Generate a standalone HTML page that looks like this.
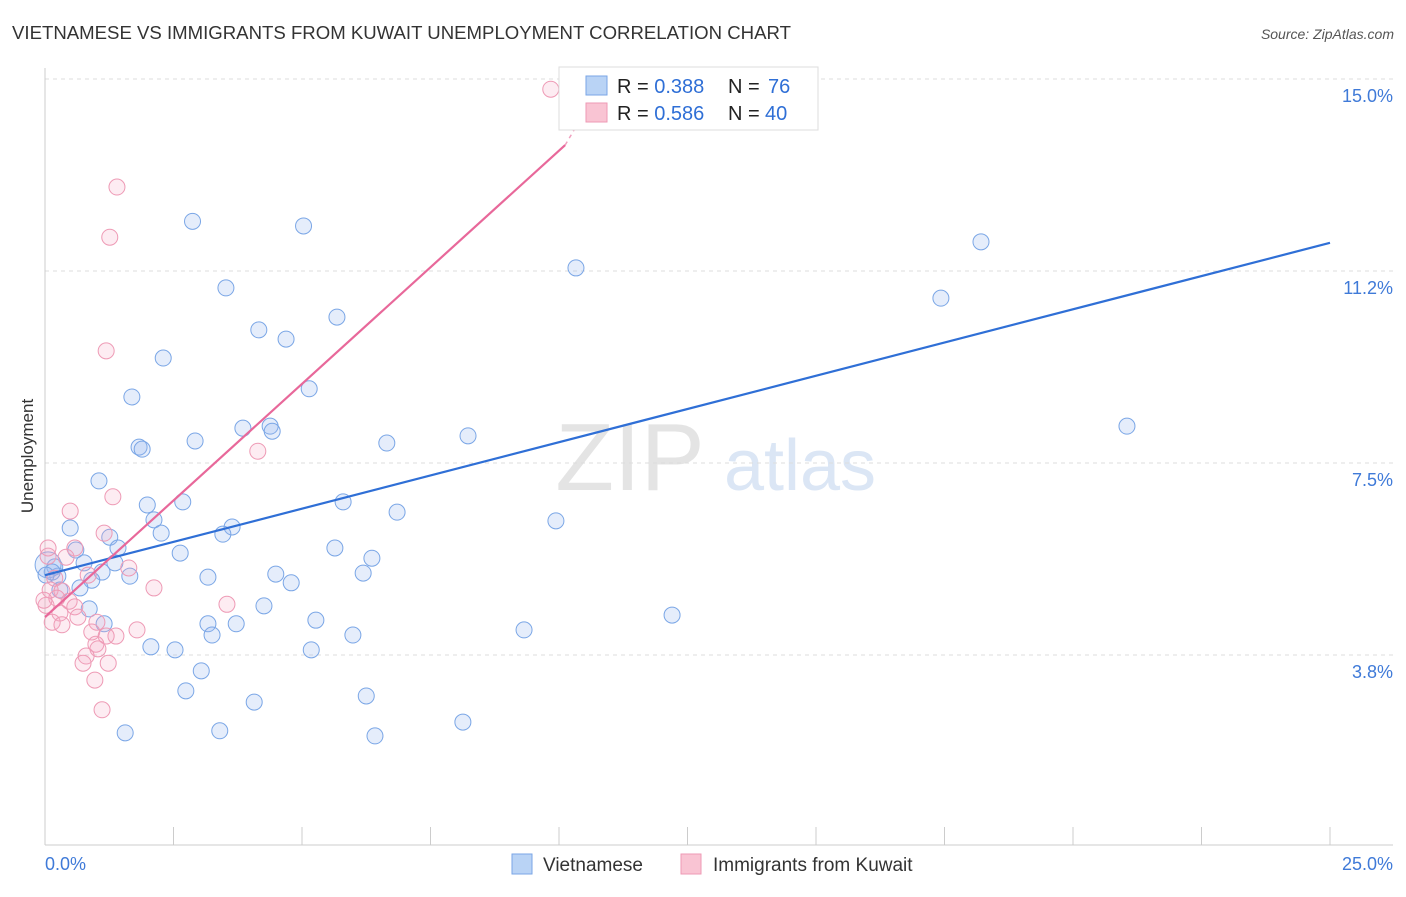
<!DOCTYPE html>
<html><head><meta charset="utf-8"><style>
body{margin:0;background:#fff;font-family:"Liberation Sans",sans-serif;}
svg text{font-family:"Liberation Sans",sans-serif;}
</style></head><body>
<svg id="c" width="1406" height="892">
<text x="12" y="39" font-size="18.6" fill="#333">VIETNAMESE VS IMMIGRANTS FROM KUWAIT UNEMPLOYMENT CORRELATION CHART</text>
<text x="1394" y="39" font-size="14" fill="#555" font-style="italic" text-anchor="end">Source: ZipAtlas.com</text>
<text x="33" y="456" font-size="17" fill="#333" text-anchor="middle" transform="rotate(-90 33 456)">Unemployment</text>
<text x="630" y="490" font-size="96" fill="#e4e4e4" font-family="Liberation Serif" text-anchor="middle">ZIP</text>
<text x="800" y="490" font-size="72" fill="#dbe6f5" text-anchor="middle">atlas</text>
<g id="grid"></g><g id="marks"></g><g id="lines"></g>
<g>
<rect x="559" y="67" width="259" height="63" fill="#fff" stroke="#ddd"/>
<rect x="586" y="76" width="21" height="19" fill="#b9d3f5" stroke="#7aa6e6"/>
<rect x="586" y="103" width="21" height="19" fill="#f9c4d3" stroke="#ee9ab5"/>
<text x="617" y="93" font-size="20" fill="#222">R = <tspan fill="#2f6fd6">0.388</tspan></text>
<text x="728" y="93" font-size="20" fill="#222">N =</text>
<text x="768" y="93" font-size="20" fill="#2f6fd6">76</text>
<text x="617" y="120" font-size="20" fill="#222">R = <tspan fill="#2f6fd6">0.586</tspan></text>
<text x="728" y="120" font-size="20" fill="#222">N =</text>
<text x="765" y="120" font-size="20" fill="#2f6fd6">40</text>
</g>
<g>
<rect x="512" y="854" width="20" height="20" fill="#b9d3f5" stroke="#7aa6e6"/>
<text x="543" y="871" font-size="19" fill="#333">Vietnamese</text>
<rect x="681" y="854" width="20" height="20" fill="#f9c4d3" stroke="#ee9ab5"/>
<text x="713" y="871" font-size="19" fill="#333">Immigrants from Kuwait</text>
</g>
</svg>
<script>
const yTicks=[3.75,7.5,11.25,15.0];
const yTickLabels=["3.8%","7.5%","11.2%","15.0%"];
const xTicks=[0,2.5,5,7.5,10,12.5,15,17.5,20,22.5,25];
const xLabels=["0.0%","25.0%"];
const blueX=[2.87,5.03,10.33,18.21,17.43,3.52,5.68,4.16,4.69,2.30,5.14,1.69,21.05,1.83,1.89,2.92,3.85,4.38,4.42,6.65,8.23,1.05,1.99,2.68,2.12,5.80,6.85,0.49,2.26,3.64,3.46,1.26,9.94,0.60,1.42,2.63,5.64,6.36,0.76,1.36,1.11,1.65,3.17,4.49,4.79,6.19,0.19,0.25,0.91,0.68,4.26,5.27,0.86,1.15,3.17,3.72,3.25,5.99,9.32,12.20,2.06,2.53,5.18,3.04,2.74,6.25,4.07,8.13,1.56,3.40,6.42,10.27,0.06,0.14,0.02,0.29];
const blueY=[12.22,12.13,11.31,11.82,10.72,10.92,10.35,10.10,9.92,9.55,8.95,8.79,8.22,7.81,7.77,7.93,8.18,8.22,8.12,7.89,8.03,7.15,6.68,6.74,6.39,6.74,6.54,6.23,6.13,6.25,6.11,6.05,6.37,5.80,5.84,5.74,5.84,5.64,5.55,5.55,5.37,5.29,5.27,5.33,5.16,5.35,5.47,5.29,5.21,5.06,4.71,4.43,4.65,4.36,4.36,4.36,4.14,4.14,4.24,4.53,3.91,3.85,3.85,3.44,3.05,2.95,2.83,2.44,2.23,2.27,2.17,14.18,5.51,5.37,5.31,5.02];
const pinkX=[9.84,1.40,1.26,1.19,4.14,1.32,0.49,1.15,0.58,0.41,0.06,1.63,0.84,0.19,0.10,0.33,2.12,0.47,0.02,0.58,0.29,0.64,3.54,0.14,0.33,1.01,0.91,1.38,1.19,1.79,0.99,1.03,0.80,1.23,0.74,0.97,1.11,0.06,0.23,-0.02];
const pinkY=[14.80,12.89,11.91,9.69,7.73,6.84,6.56,6.13,5.84,5.66,5.68,5.45,5.31,5.25,5.02,5.00,5.06,4.80,4.72,4.69,4.57,4.49,4.74,4.39,4.34,4.39,4.20,4.12,4.12,4.24,3.96,3.87,3.73,3.59,3.59,3.26,2.68,5.84,4.86,4.82];
const blueLine=[[0,5.31],[25,11.8]];
const pinkLine=[[0,4.49],[10.12,13.71]];
const pinkDash=[[10.12,13.71],[10.35,14.1]];
const ns="http://www.w3.org/2000/svg";
const X=v=>45+v*51.4, Y=v=>847-v*51.2;
function mk(t,a,p){const e=document.createElementNS(ns,t);for(const k in a)e.setAttribute(k,a[k]);p.appendChild(e);return e;}
const g=document.getElementById('grid');
yTicks.forEach((v,i)=>{
 const l=mk('line',{x1:45,x2:1393,y1:Y(v),y2:Y(v),stroke:'#ddd','stroke-dasharray':'4,4'},g);
 
 
 const t=mk('text',{x:1393,y:Y(v)+23,'font-size':18,fill:'#3f7ad8','text-anchor':'end'},g);t.textContent=yTickLabels[i];
 
 
});
mk('line',{x1:45,x2:45,y1:68,y2:845,stroke:'#ccc'},g);
mk('line',{x1:45,x2:1393,y1:845,y2:845,stroke:'#ccc'},g);
xTicks.forEach(v=>{const l=mk('line',{x1:X(v),x2:X(v),y1:827,y2:845,stroke:'#ccc'},g);
 
 });
[[0,"start",45],[25,"end",1393]].forEach((a,i)=>{const t=mk('text',{x:a[2],y:870,'font-size':18,fill:'#3f7ad8','text-anchor':a[1]},g);t.textContent=xLabels[i];
 
 });
const m=document.getElementById('marks');
blueX.forEach((v,i)=>{const c=mk('circle',{cx:X(v),cy:Y(blueY[i]),r:i==72?13:8,fill:'rgba(150,185,240,0.25)',stroke:'#7aa6e6','stroke-width':1},m);
 
 });
pinkX.forEach((v,i)=>{const c=mk('circle',{cx:X(v),cy:Y(pinkY[i]),r:8,fill:'rgba(245,170,195,0.22)',stroke:'#ee9ab5','stroke-width':1},m);
 
 });
const L=document.getElementById('lines');
let e=mk('line',{x1:X(blueLine[0][0]),y1:Y(blueLine[0][1]),x2:X(blueLine[1][0]),y2:Y(blueLine[1][1]),stroke:'#2f6fd6','stroke-width':2.2},L);


e=mk('line',{x1:X(pinkLine[0][0]),y1:Y(pinkLine[0][1]),x2:X(pinkLine[1][0]),y2:Y(pinkLine[1][1]),stroke:'#e8689a','stroke-width':2.2},L);


e=mk('line',{x1:X(pinkDash[0][0]),y1:Y(pinkDash[0][1]),x2:X(pinkDash[1][0]),y2:Y(pinkDash[1][1]),stroke:'#f0a0bf','stroke-width':1.5,'stroke-dasharray':'4,4'},L);


</script>
</body></html>
